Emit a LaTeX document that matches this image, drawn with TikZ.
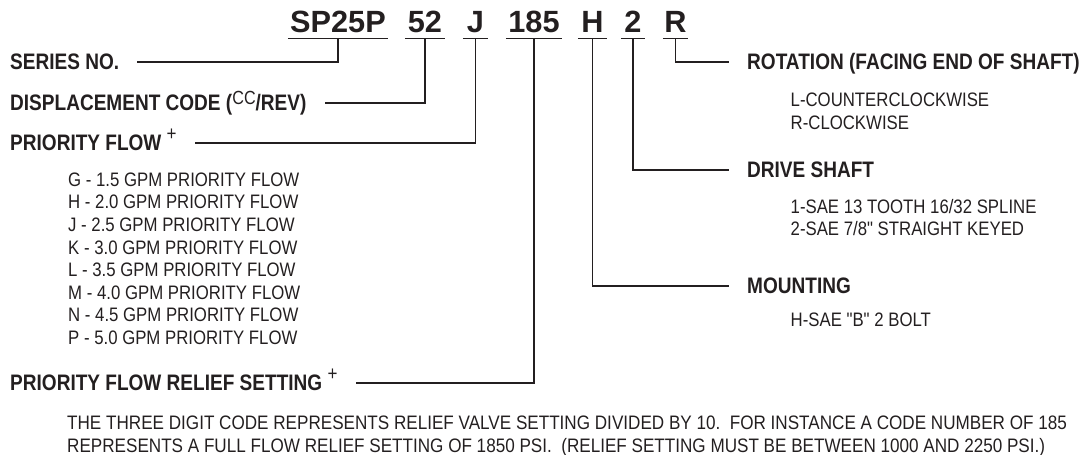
\documentclass[tikz,border=0pt]{standalone}
\usepackage{fontspec}
\setmainfont{Liberation Sans}
\newfontfamily\narrowfont[FakeStretch=0.85]{Liberation Sans}
\newfontfamily\listfont[FakeStretch=0.86]{Liberation Sans}
\newfontfamily\notefont[FakeStretch=0.877]{Liberation Sans}
\usetikzlibrary{positioning}
\definecolor{ink}{HTML}{231F20}
\newcommand{\plusmark}{{\mdseries\fontsize{20}{20}\selectfont\raisebox{10pt}{+}}}
\tikzset{
  code/.style={font=\fontsize{30.7}{32}\selectfont\bfseries, text=ink,
               inner xsep=0pt, inner ysep=0pt, text height=22pt,
               text depth=6pt, anchor=base},
  head/.style={font=\narrowfont\bfseries\fontsize{22.4}{24}\selectfont,
               text=ink, inner sep=0pt, text height=14pt, text depth=0pt,
               anchor=west},
  lst/.style={font=\listfont\fontsize{19.5}{22.6}\selectfont, text=ink,
              inner sep=0pt, align=left, anchor=north west},
  lead/.style={draw=ink, line width=1.2pt, shorten >=18pt},
  uline/.style={draw=ink, line width=1.2pt},
}

\begin{document}
\begin{tikzpicture}[x=1pt, y=-1pt]
  \useasboundingbox (0,0) rectangle (1087,455);

  % model number
  \node[code, minimum width=100pt] (sp) at (338,32) {SP25P};
  \node[code, minimum width=40pt] (dc) at (425,32) {52};
  \node[code, minimum width=25pt] (pf) at (475.5,32) {J};
  \node[code, minimum width=56pt] (rs) at (534,32) {185};
  \node[code, minimum width=29pt] (mt) at (592.5,32) {H};
  \node[code, minimum width=24pt] (ds) at (633,32) {2};
  \node[code, minimum width=25pt] (rt) at (675.5,32) {R};
  \foreach \n in {sp,dc,pf,rs,mt,ds,rt}
    \draw[uline] (\n.south west) -- (\n.south east);

  % headings
  \node[head] (series) at (10,62) {SERIES NO.};
  \node[head] (displ) at (10,103) {DISPLACEMENT CODE (\raisebox{5.5pt}{\mdseries\fontsize{19}{19}\selectfont CC}/REV)};
  \node[head] (prio) at (10,143) {PRIORITY FLOW \plusmark};
  \node[head] (relief) at (10,383) {PRIORITY FLOW RELIEF SETTING \plusmark};
  \node[head] (rot) at (747,62) {ROTATION (FACING END OF SHAFT)};
  \node[head] (shaft) at (747,170) {DRIVE SHAFT};
  \node[head] (mount) at (747,286) {MOUNTING};

  \draw[lead] (sp.south) |- (series.east);
  \draw[lead] (dc.south) |- (displ.east);
  \draw[lead] (pf.south) |- (prio.east);
  \draw[lead] (rs.south) |- (relief.east);
  \draw[lead] (mt.south) |- (mount.west);
  \draw[lead] (ds.south) |- (shaft.west);
  \draw[lead] (rt.south) |- (rot.west);

  % option lists
  \node[lst] (flows) at (68,172.5) {G - 1.5 GPM PRIORITY FLOW\\H - 2.0 GPM PRIORITY FLOW\\J - 2.5 GPM PRIORITY FLOW\\K - 3.0 GPM PRIORITY FLOW\\L - 3.5 GPM PRIORITY FLOW\\M - 4.0 GPM PRIORITY FLOW\\N - 4.5 GPM PRIORITY FLOW\\P - 5.0 GPM PRIORITY FLOW};
  \node[lst] (dirs) at (790.5,92.7) {L-COUNTERCLOCKWISE\\R-CLOCKWISE};
  \node[lst] (shafts) at (790.5,199) {1-SAE 13 TOOTH 16/32 SPLINE\\2-SAE 7/8" STRAIGHT KEYED};
  \node[lst] (mounts) at (790.5,312.7) {H-SAE "B" 2 BOLT};
  \node[lst, font=\notefont\fontsize{19.5}{22.6}\selectfont] (note) at (67,416) {THE THREE DIGIT CODE REPRESENTS RELIEF VALVE SETTING DIVIDED BY 10.\ \ FOR INSTANCE A CODE NUMBER OF 185\\REPRESENTS A FULL FLOW RELIEF SETTING OF 1850 PSI.\ \ (RELIEF SETTING MUST BE BETWEEN 1000 AND 2250 PSI.)};
\end{tikzpicture}
\end{document}
